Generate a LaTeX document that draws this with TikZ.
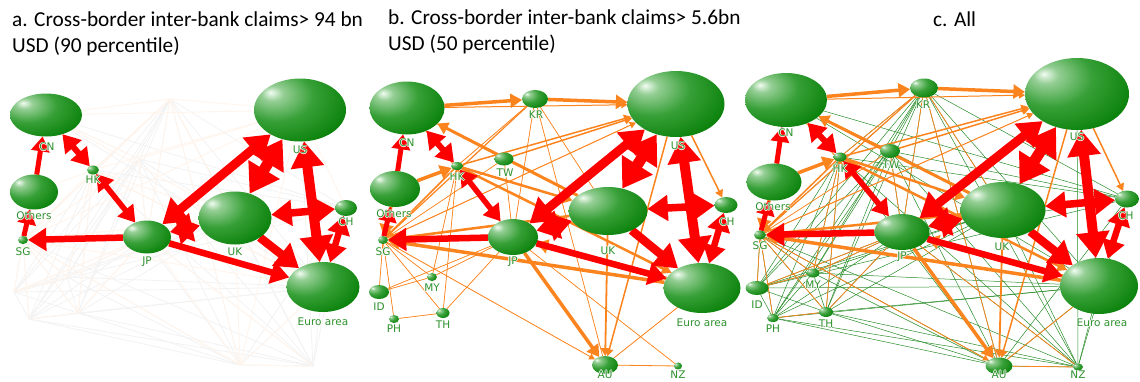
\documentclass[tikz,border=0pt]{standalone}
\usepackage{fontspec}
\setmainfont{Carlito}
\newfontfamily\lblfont{DejaVu Sans}
\usetikzlibrary{shapes.geometric,arrows.meta}
\definecolor{gdark}{RGB}{0,122,0}
\definecolor{gmid}{RGB}{55,160,55}
\definecolor{glight}{RGB}{242,252,242}
\definecolor{lblgreen}{RGB}{45,145,45}
\definecolor{redE}{RGB}{255,0,0}
\definecolor{orangeE}{RGB}{252,132,30}
\definecolor{greenE}{RGB}{40,140,40}
\pgfdeclareradialshading{gball}{\pgfpoint{-16bp}{14bp}}{color(0bp)=(glight); color(6bp)=(glight!50!gmid); color(20bp)=(gmid); color(42bp)=(gdark); color(100bp)=(gdark)}
\pgfdeclarelayer{bg}
\pgfsetlayers{bg,main}
\newcommand\halotxt[1]{\makebox[0pt][l]{\color{white}\hspace*{-0.8pt}#1}\makebox[0pt][l]{\color{white}\hspace*{0.8pt}#1}\makebox[0pt][l]{\color{white}\raisebox{0.8pt}{#1}}\makebox[0pt][l]{\color{white}\raisebox{-0.8pt}{#1}}#1}
\newcommand\gnode[5]{\node[gb,minimum width=#4pt,minimum height=#5pt] (#1) at (#2,#3) {};}
\newcommand\glabel[4]{\node[lbl] (#1l) at (#2,#3) {\halotxt{#4}};}
\def\redlist{Oth/CN/5/->, CN/HK/6/<->, HK/JP/5.5/<->, JP/SG/6.5/->, SG/Oth/5/->, JP/US/9/<->, UK/US/11/<->, US/EU/10/<->, UK/CH/7.5/<->, CH/EU/6.5/<->, UK/EU/8.5/->, JP/EU/6.5/->, JP/UK/8.5/<->}
\def\orangelist{CN/KR/3.5/->, KR/US/3.5/->, CN/US/1/->, HK/US/1.5/->, TW/US/1.5/->, SG/US/1/->, UK/CN/3/->, CN/TW/1/-, HK/UK/2.5/->, HK/EU/2.5/->, Oth/HK/3.5/->, KR/SG/1.2/->, EU/SG/3.5/->, EU/JP/3.5/->, JP/AU/3.5/->, UK/AU/1.8/->, US/AU/1.5/->, US/CH/1.5/->, Oth/SG/3.5/->, UK/SG/2.5/->, CN/JP/1/-, SG/MY/0.7/-, SG/TH/0.7/-, SG/ID/0.7/-, SG/PH/0.7/-, HK/TH/0.7/-, HK/MY/0.7/-, TW/SG/0.7/-, TW/JP/0.7/-, EU/AU/0.8/-, AU/NZ/0.8/-, JP/NZ/0.7/-, SG/AU/0.8/->, KR/JP/0.7/-, KR/AU/0.7/-, KR/UK/0.7/-, TH/JP/0.7/-, MY/JP/0.7/-, ID/JP/0.7/-, PH/TH/0.7/-, KR/HK/0.8/-, ID/MY/0.7/-, HK/SG/1.5/->, EU/HK/1/-, JP/EU/1/-}
\def\greenlist{KR/TW, KR/HK, KR/JP, KR/UK, KR/MY, KR/TH, KR/PH, KR/ID, KR/SG, KR/AU, KR/NZ, KR/EU, KR/CH, PH/ID, PH/MY, PH/TH, PH/HK, PH/TW, PH/JP, PH/UK, PH/AU, PH/NZ, PH/EU, TH/HK, TH/TW, TH/JP, TH/UK, TH/EU, TH/AU, TH/NZ, TH/MY, MY/HK, MY/TW, MY/JP, MY/UK, MY/EU, MY/AU, MY/ID, ID/HK, ID/TW, ID/JP, ID/UK, ID/EU, ID/CH, ID/TH, CN/CH, CN/EU, CN/TW, HK/AU, HK/NZ, HK/CH, HK/EU, TW/AU, TW/NZ, TW/CH, TW/UK, JP/NZ, JP/CH, UK/NZ, US/NZ, CH/NZ, CH/AU, SG/AU, SG/NZ, EU/NZ, EU/AU, AU/NZ, SG/ID, SG/PH, SG/TH, SG/MY, HK/JP, TW/JP, US/EU}
\begin{document}
\begin{tikzpicture}[x=1pt,y=-1pt,
  >={Triangle[width=4pt 2.8,length=4pt 2.2]},
  gb/.style={ellipse,inner sep=0pt,outer sep=0pt,shade,shading=gball},
  lbl/.style={inner sep=0pt,text=lblgreen,font=\lblfont\fontsize{10.5}{11}\selectfont},
  title/.style={inner sep=0pt,anchor=base west,font=\fontsize{21.3}{25}\selectfont},
  redE/.style={draw=redE,fill=redE},
  orE/.style={draw=orangeE,fill=orangeE},
  grE/.style={draw=greenE,line width=0.5pt},
  faintO/.style={draw=orangeE!8,line width=1pt},
  faintG/.style={draw=black!5,line width=0.8pt}]
\useasboundingbox (0,0) rectangle (1140,381);
% titles
\node[title] (ta1) at (12,26.5) {a. Cross-border inter-bank claims> 94 bn};
\node[title] (ta2) at (12,52.5) {USD (90 percentile)};
\node[title] (tb1) at (388,24.5) {b. Cross-border inter-bank claims> 5.6bn};
\node[title] (tb2) at (388,50.5) {USD (50 percentile)};
\node[title] (tc1) at (933,26.5) {c. All};
% panel a
\gnode{a-CN}{46}{115}{72}{43}
\gnode{a-US}{300}{110}{92}{63}
\gnode{a-Oth}{34}{192}{48}{35}
\gnode{a-HK}{93}{170}{12}{9}
\gnode{a-SG}{23}{240}{10}{8}
\gnode{a-JP}{147}{237}{48}{33}
\gnode{a-UK}{235}{218}{73}{53}
\gnode{a-CH}{346}{208}{22}{16}
\gnode{a-EU}{323}{287}{73}{50}
\coordinate (a-KR) at (170,99);
\coordinate (a-TW) at (139,159);
\coordinate (a-MY) at (67,277);
\coordinate (a-ID) at (14,292);
\coordinate (a-PH) at (29,319);
\coordinate (a-TH) at (78,313);
\coordinate (a-AU) at (240,365);
\coordinate (a-NZ) at (313,366);
\glabel{a-CN}{47}{147}{CN}
\glabel{a-US}{300}{150}{US}
\glabel{a-Oth}{34}{216}{Others}
\glabel{a-HK}{93}{180}{HK}
\glabel{a-SG}{23}{252}{SG}
\glabel{a-JP}{147}{262}{JP}
\glabel{a-UK}{235}{252}{UK}
\glabel{a-CH}{346}{222}{CH}
\glabel{a-EU}{323}{322}{Euro area}
% panel b
\gnode{b-CN}{407}{108}{75}{53}
\gnode{b-KR}{535}{99}{26}{18}
\gnode{b-US}{676}{104}{97}{66}
\gnode{b-TW}{504}{159}{19}{13}
\gnode{b-HK}{457}{166}{12}{8}
\gnode{b-Oth}{395}{189}{50}{36}
\gnode{b-SG}{383}{240}{10}{8}
\gnode{b-JP}{513}{237}{50}{36}
\gnode{b-UK}{608}{211}{79}{48}
\gnode{b-CH}{726}{205}{23}{16}
\gnode{b-EU}{702}{288}{77}{50}
\gnode{b-MY}{432}{277}{10}{8}
\gnode{b-ID}{379}{292}{20}{14}
\gnode{b-PH}{394}{319}{10}{8}
\gnode{b-TH}{443}{313}{13}{10}
\gnode{b-AU}{605}{365}{26}{18}
\gnode{b-NZ}{678}{366}{8}{7}
\glabel{b-CN}{407}{143}{CN}
\glabel{b-KR}{536}{115}{KR}
\glabel{b-US}{678}{146}{US}
\glabel{b-TW}{505}{173}{TW}
\glabel{b-HK}{457}{177}{HK}
\glabel{b-Oth}{394}{214}{Others}
\glabel{b-SG}{383}{252}{SG}
\glabel{b-JP}{513}{262}{JP}
\glabel{b-UK}{608}{251}{UK}
\glabel{b-CH}{727}{222}{CH}
\glabel{b-EU}{702}{323}{Euro area}
\glabel{b-MY}{432}{288}{MY}
\glabel{b-ID}{379}{307}{ID}
\glabel{b-PH}{394}{329}{PH}
\glabel{b-TH}{443}{325}{TH}
\glabel{b-AU}{605}{375}{AU}
\glabel{b-NZ}{678}{375}{NZ}
% panel c
\gnode{c-CN}{786}{100}{82}{54}
\gnode{c-KR}{924}{88}{28}{19}
\gnode{c-US}{1077}{94}{104}{72}
\gnode{c-TW}{890}{151}{20}{14}
\gnode{c-HK}{840}{157}{13}{9}
\gnode{c-Oth}{774}{182}{55}{37}
\gnode{c-SG}{760}{235}{12}{9}
\gnode{c-JP}{902}{232}{55}{36}
\gnode{c-UK}{1003}{210}{85}{56}
\gnode{c-CH}{1127}{199}{24}{17}
\gnode{c-EU}{1099}{286}{78}{56}
\gnode{c-MY}{813}{273}{13}{9}
\gnode{c-ID}{757}{288}{23}{14}
\gnode{c-PH}{773}{318}{12}{8}
\gnode{c-TH}{826}{312}{14}{10}
\gnode{c-AU}{999}{366}{27}{17}
\gnode{c-NZ}{1078}{367}{10}{7}
\glabel{c-CN}{786}{133}{CN}
\glabel{c-KR}{923}{105}{KR}
\glabel{c-US}{1077}{137}{US}
\glabel{c-TW}{891}{165}{TW}
\glabel{c-HK}{840}{169}{HK}
\glabel{c-Oth}{773}{207}{Others}
\glabel{c-SG}{760}{246}{SG}
\glabel{c-JP}{902}{257}{JP}
\glabel{c-UK}{1002}{247}{UK}
\glabel{c-CH}{1126}{216}{CH}
\glabel{c-EU}{1102}{323}{Euro area}
\glabel{c-MY}{813}{285}{MY}
\glabel{c-ID}{757}{305}{ID}
\glabel{c-PH}{773}{329}{PH}
\glabel{c-TH}{826}{324}{TH}
\glabel{c-AU}{999}{375}{AU}
\glabel{c-NZ}{1078}{375}{NZ}
% connectors
\begin{pgfonlayer}{bg}
  \foreach \p/\q in \greenlist {\draw[faintG] (a-\p) -- (a-\q);}
  \foreach \p/\q/\w/\k in \orangelist {\draw[faintO] (a-\p) -- (a-\q);}
  \foreach \p/\q in \greenlist {\draw[grE] (c-\p) -- (c-\q);}
  \foreach \P in {b,c} {
    \foreach \p/\q/\w/\k in \orangelist {\draw[orE,line width=\w pt,\k] (\P-\p) -- (\P-\q);}
  }
  \foreach \P in {a,b,c} {
    \foreach \p/\q/\w/\k in \redlist {\draw[redE,line width=\w pt,\k] (\P-\p) -- (\P-\q);}
  }
\end{pgfonlayer}
\end{tikzpicture}
\end{document}
